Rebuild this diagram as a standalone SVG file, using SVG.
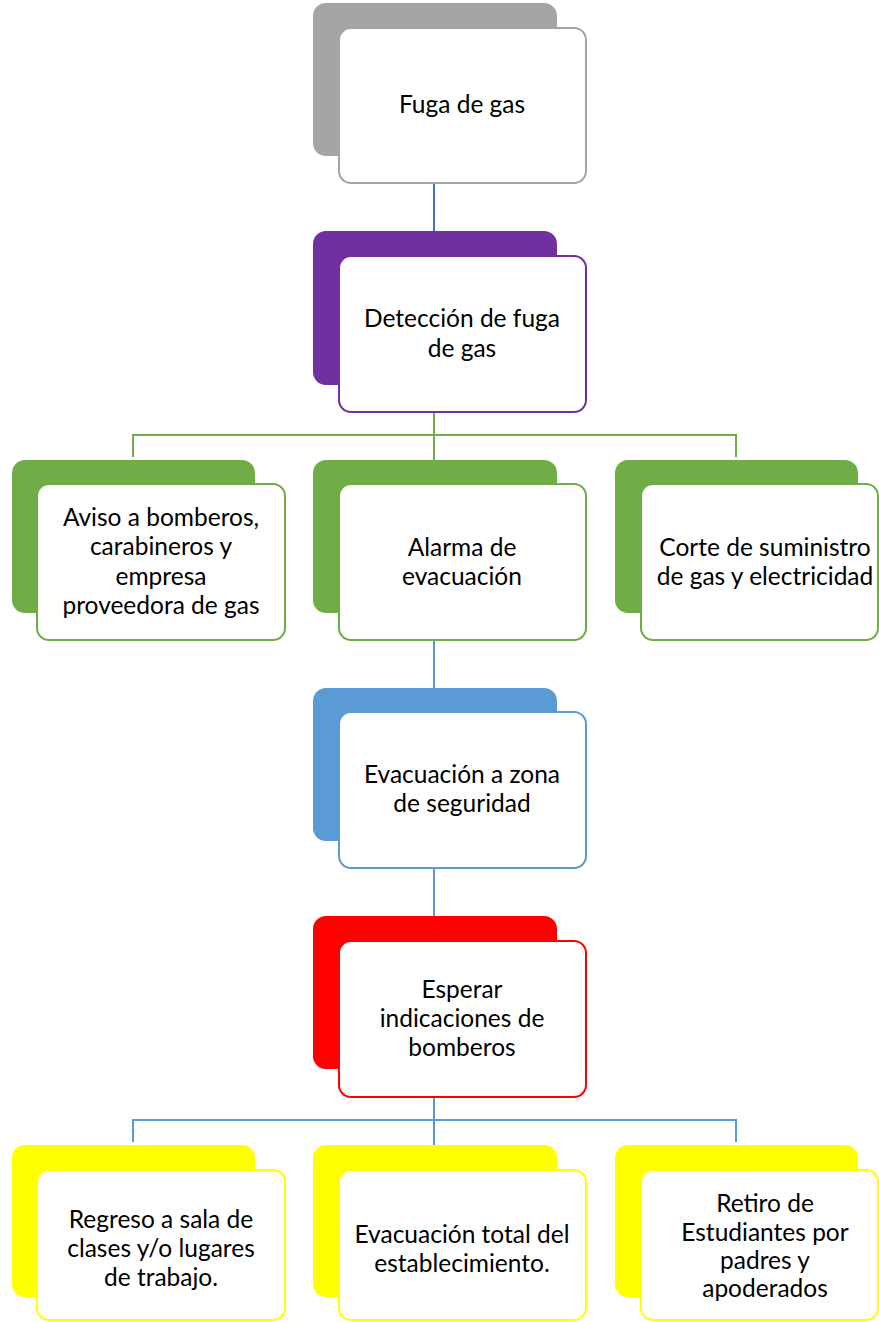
<svg xmlns="http://www.w3.org/2000/svg" width="879" height="1322" viewBox="0 0 879 1322">
<style>
.bg{stroke:none}
.fr{fill:#fff;stroke-width:2}
.t{font-family:Lato,"Carlito","Liberation Sans",sans-serif;font-size:24.5px;fill:#000;text-anchor:middle}
.c{fill:none;stroke-width:2}
</style>
<rect width="879" height="1322" fill="#fff"/>
<g id="connectors">
<line class="c" x1="434" y1="183" x2="434" y2="255" stroke="#4472C4"/>
<path class="c" d="M434 413 V460 M133 457 V435 H736 V457" stroke="#70AD47"/>
<line class="c" x1="434" y1="641" x2="434" y2="688" stroke="#5B9BD5"/>
<line class="c" x1="434" y1="868" x2="434" y2="916" stroke="#5B9BD5"/>
<path class="c" d="M434 1097 V1145 M133 1142 V1120 H736 V1142" stroke="#5B9BD5"/>
</g>
<g id="n1">
<rect class="bg" x="313" y="3" width="244" height="153" rx="13" fill="#A5A5A5"/>
<rect class="fr" x="339" y="28" width="247" height="155" rx="12" stroke="#A5A5A5"/>
<text class="t" x="462" y="113">Fuga de gas</text>
</g>
<g id="n2">
<rect class="bg" x="313" y="231" width="244" height="154" rx="13" fill="#7030A0"/>
<rect class="fr" x="339" y="256" width="247" height="156" rx="12" stroke="#7030A0"/>
<text class="t" x="462" y="327">Detección de fuga</text>
<text class="t" x="462" y="357">de gas</text>
</g>
<g id="n3">
<rect class="bg" x="12" y="460" width="243" height="153" rx="13" fill="#70AD47"/>
<rect class="fr" x="37" y="484" width="248" height="156" rx="12" stroke="#70AD47"/>
<text class="t" x="161" y="526">Aviso a bomberos,</text>
<text class="t" x="161" y="555">carabineros y</text>
<text class="t" x="161" y="585">empresa</text>
<text class="t" x="161" y="614">proveedora de gas</text>
</g>
<g id="n4">
<rect class="bg" x="313" y="460" width="244" height="153" rx="13" fill="#70AD47"/>
<rect class="fr" x="339" y="484" width="247" height="156" rx="12" stroke="#70AD47"/>
<text class="t" x="462" y="556">Alarma de</text>
<text class="t" x="462" y="585">evacuación</text>
</g>
<g id="n5">
<rect class="bg" x="615" y="460" width="243" height="153" rx="13" fill="#70AD47"/>
<rect class="fr" x="641" y="484" width="237" height="156" rx="12" stroke="#70AD47"/>
<text class="t" x="765" y="556">Corte de suministro</text>
<text class="t" x="765" y="585">de gas y electricidad</text>
</g>
<g id="n6">
<rect class="bg" x="313" y="688" width="244" height="153" rx="13" fill="#5B9BD5"/>
<rect class="fr" x="339" y="712" width="247" height="156" rx="12" stroke="#5B9BD5"/>
<text class="t" x="462" y="783">Evacuación a zona</text>
<text class="t" x="462" y="812">de seguridad</text>
</g>
<g id="n7">
<rect class="bg" x="313" y="916" width="244" height="153" rx="13" fill="#FF0000"/>
<rect class="fr" x="339" y="941" width="247" height="156" rx="12" stroke="#FF0000"/>
<text class="t" x="462" y="998">Esperar</text>
<text class="t" x="462" y="1027">indicaciones de</text>
<text class="t" x="462" y="1056">bomberos</text>
</g>
<g id="n8">
<rect class="bg" x="12" y="1145" width="243" height="152" rx="13" fill="#FFFF00"/>
<rect class="fr" x="37" y="1170" width="248" height="150" rx="12" stroke="#FFFF00"/>
<text class="t" x="161" y="1228">Regreso a sala de</text>
<text class="t" x="161" y="1257">clases y/o lugares</text>
<text class="t" x="161" y="1286">de trabajo.</text>
</g>
<g id="n9">
<rect class="bg" x="313" y="1145" width="244" height="152" rx="13" fill="#FFFF00"/>
<rect class="fr" x="339" y="1170" width="247" height="150" rx="12" stroke="#FFFF00"/>
<text class="t" x="462" y="1243">Evacuación total del</text>
<text class="t" x="462" y="1272">establecimiento.</text>
</g>
<g id="n10">
<rect class="bg" x="615" y="1145" width="243" height="152" rx="13" fill="#FFFF00"/>
<rect class="fr" x="641" y="1170" width="237" height="150" rx="12" stroke="#FFFF00"/>
<text class="t" x="765" y="1212">Retiro de</text>
<text class="t" x="765" y="1241">Estudiantes por</text>
<text class="t" x="765" y="1269">padres y</text>
<text class="t" x="765" y="1297">apoderados</text>
</g>
</svg>
